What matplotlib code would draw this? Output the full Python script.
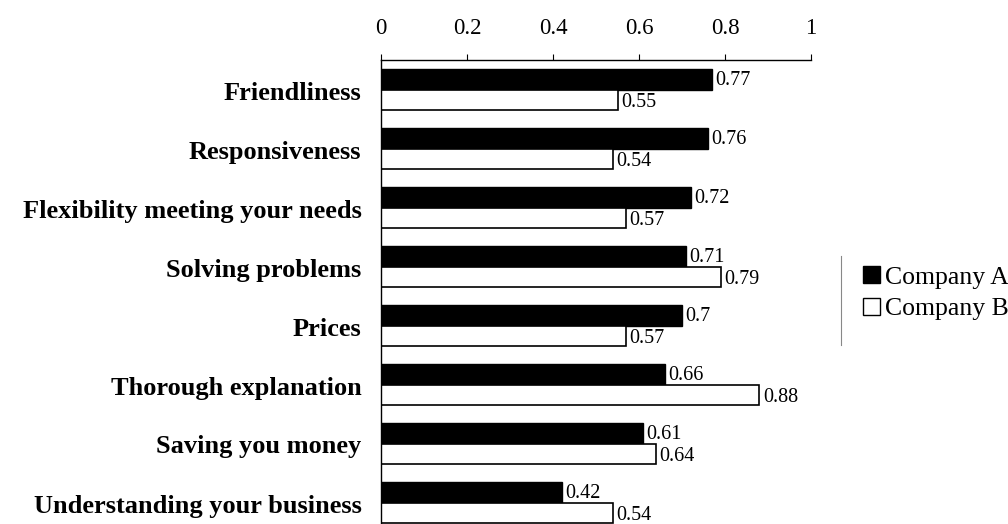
import matplotlib
matplotlib.use("Agg")
import matplotlib.pyplot as plt
import matplotlib.transforms as mtransforms
from matplotlib.patches import Patch
from matplotlib.lines import Line2D
import numpy as np

categories = ["Friendliness", "Responsiveness", "Flexibility meeting your needs",
              "Solving problems", "Prices", "Thorough explanation",
              "Saving you money", "Understanding your business"]
company_a = [0.77, 0.76, 0.72, 0.71, 0.70, 0.66, 0.61, 0.42]
company_b = [0.55, 0.54, 0.57, 0.79, 0.57, 0.88, 0.64, 0.54]
series_names = ["Company A", "Company B"]
x_ticks = [0, 0.2, 0.4, 0.6, 0.8, 1.0]
x_tick_labels = ["0", "0.2", "0.4", "0.6", "0.8", "1"]

plt.rcParams['font.family'] = ['Liberation Serif', 'DejaVu Serif']

W, H = 1008, 524
fig = plt.figure(figsize=(W / 100, H / 100), dpi=100)
ax = fig.add_axes([381 / W, -8 / H, 430 / W, 472 / H])

y = np.arange(len(categories))
bh = 0.34
ax.barh(y - bh / 2, company_a, height=bh, color="black", edgecolor="black", linewidth=1.0)
ax.barh(y + bh / 2, company_b, height=bh, color="white", edgecolor="black", linewidth=1.2)

for yi, (a, b) in enumerate(zip(company_a, company_b)):
    ax.text(a + 0.008, yi - bh / 2 + 0.02, f"{a:g}", va="center", ha="left", fontsize=14.5)
    ax.text(b + 0.008, yi + bh / 2 + 0.05, f"{b:g}", va="center", ha="left", fontsize=14.5)

ax.set_xlim(0, 1)
ax.set_ylim(len(categories) - 0.5, -0.5)
ax.xaxis.tick_top()
ax.set_xticks(x_ticks)
ax.set_xticklabels(x_tick_labels, fontsize=16.5)
ax.tick_params(axis="x", direction="out", length=4, pad=11, width=0.8)
ax.set_yticks(y)
ax.set_yticklabels(categories, fontsize=19, fontweight="bold")
ax.tick_params(axis="y", length=0, pad=14)
offset = mtransforms.ScaledTranslation(0, -1 / 100, fig.dpi_scale_trans)
for lbl in ax.get_yticklabels():
    lbl.set_transform(lbl.get_transform() + offset)

for s in ["right", "bottom"]:
    ax.spines[s].set_visible(False)
ax.spines["top"].set_linewidth(1.0)
ax.spines["left"].set_linewidth(1.0)

handles = [Patch(facecolor="black", edgecolor="black"),
           Patch(facecolor="white", edgecolor="black")]
fig.legend(handles, series_names, loc="upper left",
           bbox_to_anchor=(853 / W, 1 - 256 / H), frameon=False,
           fontsize=18.5, handlelength=0.65, handleheight=0.65,
           handletextpad=0.2, labelspacing=0.35, borderaxespad=0)
fig.add_artist(Line2D([841 / W, 841 / W], [1 - 256 / H, 1 - 345 / H],
                      transform=fig.transFigure, color="#888888", linewidth=0.8))

fig.savefig("out.png", dpi=100)
